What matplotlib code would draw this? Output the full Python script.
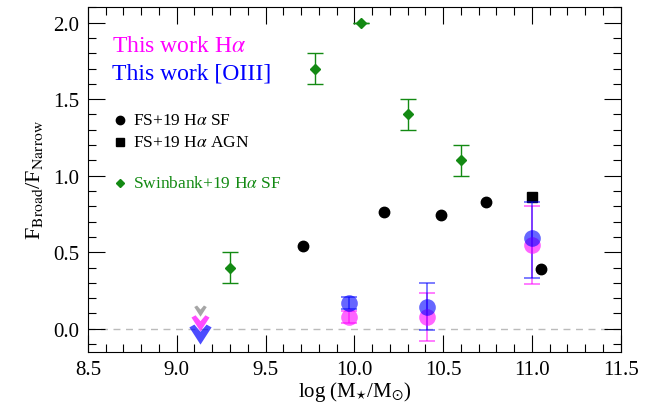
"""Broad-to-narrow flux ratio against stellar mass."""
import matplotlib
matplotlib.use("Agg")
import matplotlib.pyplot as plt
from matplotlib.path import Path
from matplotlib.ticker import MultipleLocator

plt.rcParams.update({
    "font.family": "Liberation Serif",
    "mathtext.fontset": "stix",
    "font.size": 13,
    "xtick.direction": "in",
    "ytick.direction": "in",
    "xtick.top": True,
    "ytick.right": True,
})

# this work: Halpha and [OIII] broad/narrow ratios with asymmetric errors
mass_this = [9.97, 10.41, 11.0]
ha_ratio = [0.075, 0.08, 0.55]
ha_err_lo = [0.04, 0.16, 0.26]
ha_err_hi = [0.04, 0.155, 0.25]
oiii_ratio = [0.17, 0.145, 0.59]
oiii_err_lo = [0.04, 0.155, 0.26]
oiii_err_hi = [0.04, 0.155, 0.24]

# upper limits at the low-mass end
mass_lim = 9.13
lim_gray = 0.12
lim_ha = 0.045
lim_oiii = -0.03

# Förster Schreiber+19
fs_sf_mass = [9.71, 10.17, 10.49, 10.74, 11.05]
fs_sf_ratio = [0.54, 0.76, 0.74, 0.83, 0.39]
fs_agn_mass = [11.0]
fs_agn_ratio = [0.86]

# Swinbank+19
sw_mass = [9.3, 9.78, 10.04, 10.3, 10.6]
sw_ratio = [0.4, 1.7, 2.0, 1.4, 1.1]
sw_err = [0.1, 0.1, 0.0, 0.1, 0.1]

MAGENTA = "#ff00ff"
BLUE = "#0000ff"
GREEN = "#138a13"

# notched down-pointing arrowhead used for the upper limits
arrow = Path([(0, -1), (-1, 0.55), (-0.55, 0.8), (0, 0.15), (0.55, 0.8),
              (1, 0.55), (0, -1)],
             [Path.MOVETO] + [Path.LINETO] * 5 + [Path.CLOSEPOLY])

fig = plt.figure(figsize=(6.61, 4.14), dpi=100)
ax = fig.add_axes([0.133, 0.148, 0.806, 0.832])

ax.axhline(0, color="#bbbbbb", ls=(0, (5, 4)), lw=1, zorder=0)

ax.errorbar(sw_mass, sw_ratio, yerr=sw_err, fmt="D", color=GREEN, ms=5,
            capsize=6, elinewidth=1, capthick=1)
ax.plot(fs_sf_mass, fs_sf_ratio, "o", color="black", ms=7.5)
ax.plot(fs_agn_mass, fs_agn_ratio, "s", color="black", ms=7.5)

ax.errorbar(mass_this, ha_ratio, yerr=[ha_err_lo, ha_err_hi], fmt="o",
            color=MAGENTA, ms=12, alpha=0.6, capsize=6, elinewidth=1.2,
            capthick=1.2, mec="none")
ax.errorbar(mass_this, oiii_ratio, yerr=[oiii_err_lo, oiii_err_hi], fmt="o",
            color=BLUE, ms=12, alpha=0.6, capsize=6, elinewidth=1.2,
            capthick=1.2, mec="none")

ax.plot(mass_lim, lim_gray, marker=arrow, color="gray", ms=9, alpha=0.7,
        mec="none")
ax.plot(mass_lim, lim_ha, marker=arrow, color=MAGENTA, ms=13, alpha=0.7,
        mec="none")
ax.plot(mass_lim, lim_oiii, marker=arrow, color=BLUE, ms=16, alpha=0.7,
        mec="none")

# hand-placed key
ax.text(0.045, 0.89, r"This work H$\alpha$", transform=ax.transAxes,
        color=MAGENTA, fontsize=17, va="center")
ax.text(0.045, 0.81, "This work [OIII]", transform=ax.transAxes,
        color=BLUE, fontsize=17, va="center")
key_x = 0.06
for ypos, mk, col, label in [
        (0.674, "o", "black", r"FS+19 H$\alpha$ SF"),
        (0.608, "s", "black", r"FS+19 H$\alpha$ AGN"),
        (0.49, "D", GREEN, r"Swinbank+19 H$\alpha$ SF")]:
    ax.plot(key_x, ypos, marker=mk, color=col, ms=6 if mk != "D" else 4.5,
            transform=ax.transAxes, clip_on=False)
    ax.text(key_x + 0.025, ypos, label, transform=ax.transAxes, color=col,
            fontsize=12.5, va="center")

ax.set_xlim(8.5, 11.5)
ax.set_ylim(-0.15, 2.1)
ax.xaxis.set_major_locator(MultipleLocator(0.5))
ax.xaxis.set_minor_locator(MultipleLocator(0.1))
ax.yaxis.set_major_locator(MultipleLocator(0.5))
ax.yaxis.set_minor_locator(MultipleLocator(0.1))
ax.tick_params(which="major", length=12, width=0.8, labelsize=15, pad=6)
ax.tick_params(which="minor", length=6, width=0.8)
for sp in ax.spines.values():
    sp.set_linewidth(0.8)

ax.set_xlabel(r"log (M$_{\star}$/M$_{\odot}$)", fontsize=15, labelpad=0)
ax.set_ylabel(r"F$_{\rm Broad}$/F$_{\rm Narrow}$", fontsize=16, labelpad=6)

fig.savefig("out.png", dpi=100)
